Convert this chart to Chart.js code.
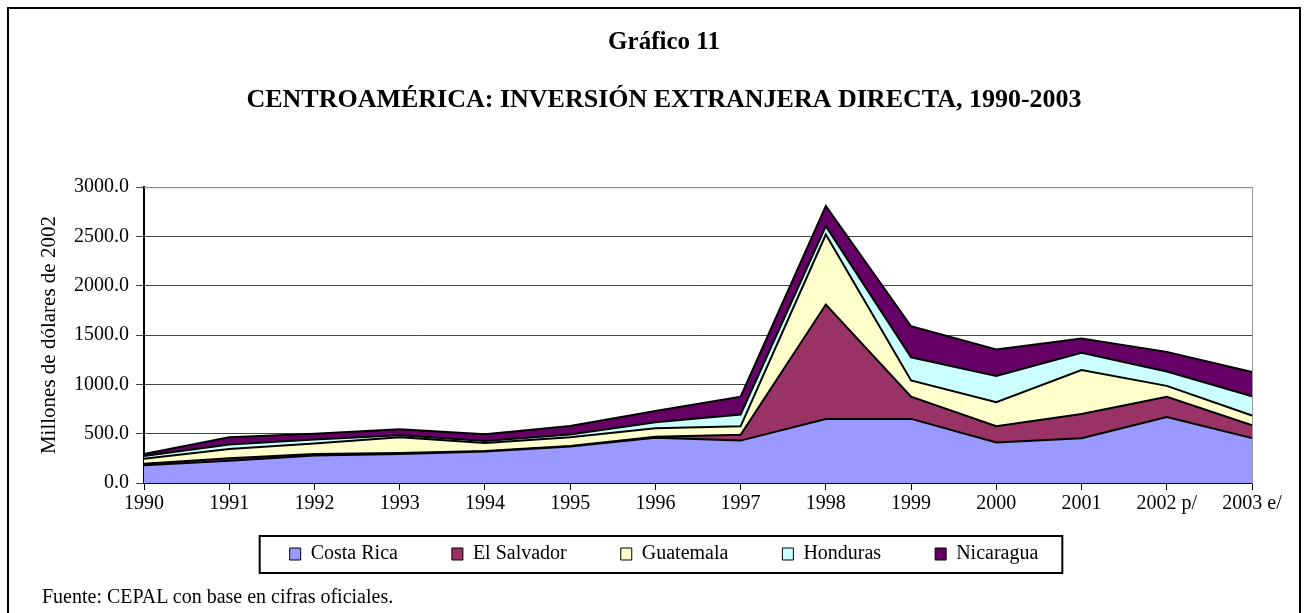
<!DOCTYPE html>
<html lang="es">
<head>
    <meta charset="UTF-8">
    <title>Gráfico 11</title>
    <script src="https://cdn.jsdelivr.net/npm/chart.js"></script>
    <style>
        body {
            margin: 0;
            background: #ffffff;
            font-family: 'Liberation Serif', 'Times New Roman', serif;
        }
        .wrap {
            position: relative;
            width: 1308px;
            height: 613px;
            overflow: hidden;
        }
        .frame {
            position: absolute;
            left: 7px;
            top: 7px;
            width: 1290px;
            height: 620px;
            border: 2px solid #000;
            pointer-events: none;
        }
        .note {
            position: absolute;
            left: 42px;
            top: 585px;
            font-size: 20px;
            color: #000;
        }
    </style>
</head>
<body>
    <div class="wrap">
        <canvas id="fdi-chart" width="1308" height="613"></canvas>
        <div class="frame"></div>
        <div class="note">Fuente: CEPAL con base en cifras oficiales.</div>
    </div>
    <script>
        // valores (millones de dólares de 2002)
        const years = ['1990', '1991', '1992', '1993', '1994', '1995', '1996', '1997', '1998', '1999', '2000', '2001', '2002 p/', '2003 e/'];
        const costaRica  = [180, 225, 280, 295, 320, 370, 460, 430, 650, 650, 410, 455, 670, 455];
        const elSalvador = [15, 25, 15, 10, 5, 5, 10, 60, 1160, 225, 165, 245, 205, 130];
        const guatemala  = [50, 95, 105, 160, 80, 90, 85, 85, 710, 165, 245, 445, 110, 100];
        const honduras   = [30, 45, 40, 20, 20, 27, 60, 120, 85, 235, 265, 175, 145, 195];
        const nicaragua  = [20, 75, 60, 60, 70, 85, 115, 180, 205, 315, 270, 145, 200, 245];

        const serif = "'Liberation Serif', 'Times New Roman', serif";

        function area(label, data, color, fill) {
            return {
                label: label,
                data: data,
                backgroundColor: color,
                borderColor: '#000000',
                borderWidth: 2,
                fill: fill,
                tension: 0,
                pointRadius: 0
            };
        }

        // recuadro alrededor de la leyenda
        const legendFrame = {
            id: 'legendFrame',
            afterDraw(chart) {
                const lg = chart.legend;
                if (!lg || !lg.legendHitBoxes.length) return;
                const ctx = chart.ctx;
                const boxes = lg.legendHitBoxes;
                const last = boxes[boxes.length - 1];
                const x0 = boxes[0].left - 30;
                const x1 = last.left + last.width + 24;
                ctx.save();
                ctx.strokeStyle = '#000000';
                ctx.lineWidth = 2;
                ctx.strokeRect(x0, lg.top + 1, x1 - x0, lg.height - 2);
                ctx.restore();
            }
        };

        // borde gris superior del área de trazado
        const topBorder = {
            id: 'topBorder',
            afterDraw(chart) {
                const a = chart.chartArea;
                const ctx = chart.ctx;
                ctx.save();
                ctx.strokeStyle = '#999';
                ctx.lineWidth = 1;
                ctx.beginPath();
                ctx.moveTo(a.left, a.top + 0.5);
                ctx.lineTo(a.right, a.top + 0.5);
                ctx.stroke();
                ctx.restore();
            }
        };

        new Chart(document.getElementById('fdi-chart'), {
            type: 'line',
            data: {
                labels: years,
                datasets: [
                    area('Costa Rica', costaRica, '#9999ff', 'origin'),
                    area('El Salvador', elSalvador, '#993366', '-1'),
                    area('Guatemala', guatemala, '#ffffcc', '-1'),
                    area('Honduras', honduras, '#ccffff', '-1'),
                    area('Nicaragua', nicaragua, '#660066', '-1')
                ]
            },
            options: {
                responsive: false,
                animation: false,
                layout: {
                    padding: { top: 10, left: 20, right: 0, bottom: 39 }
                },
                plugins: {
                    title: {
                        display: true,
                        text: 'Gráfico 11',
                        color: '#000',
                        font: { family: serif, size: 25, weight: 'bold' },
                        padding: { top: 18, bottom: 14 }
                    },
                    subtitle: {
                        display: true,
                        text: 'CENTROAMÉRICA: INVERSIÓN EXTRANJERA DIRECTA, 1990-2003',
                        color: '#000',
                        font: { family: serif, size: 26, weight: 'bold' },
                        padding: { top: 13, bottom: 71 }
                    },
                    legend: {
                        position: 'bottom',
                        labels: {
                            color: '#000',
                            font: { family: serif, size: 20 },
                            boxWidth: 11,
                            boxHeight: 12,
                            padding: 9,
                            generateLabels: function (chart) {
                                const items = Chart.defaults.plugins.legend.labels.generateLabels(chart);
                                items.forEach((it, i) => {
                                    it.lineWidth = 1;
                                    if (i < items.length - 1) it.text = it.text + ' '.repeat(9);
                                });
                                return items;
                            }
                        }
                    },
                    tooltip: { enabled: false }
                },
                scales: {
                    x: {
                        offset: false,
                        grid: {
                            drawOnChartArea: false,
                            drawTicks: true,
                            tickLength: 7,
                            color: '#000'
                        },
                        border: { color: '#000', width: 2 },
                        ticks: {
                            color: '#000',
                            font: { family: serif, size: 20 },
                            autoSkip: false,
                            maxRotation: 0,
                            padding: 2
                        },
                        afterFit: function (s) { s.height = 52; }
                    },
                    y: {
                        stacked: true,
                        min: 0,
                        max: 3000,
                        grid: {
                            color: '#444',
                            lineWidth: 1,
                            tickLength: 8
                        },
                        border: { color: '#000', width: 2 },
                        ticks: {
                            stepSize: 500,
                            color: '#000',
                            font: { family: serif, size: 20 },
                            padding: 7,
                            callback: v => v.toFixed(1)
                        },
                        title: {
                            display: true,
                            text: 'Millones de dólares de 2002',
                            color: '#000',
                            font: { family: serif, size: 21 },
                            padding: { top: 17, bottom: 0 }
                        },
                        afterFit: function (s) { s.width = 124; }
                    },
                    // eje derecho vacío: deja el margen y traza el borde gris
                    right: {
                        position: 'right',
                        min: 0,
                        max: 3000,
                        grid: { display: false },
                        ticks: { display: false },
                        border: { display: true, color: '#999', width: 1 },
                        afterFit: function (s) { s.width = 56; }
                    }
                }
            },
            plugins: [legendFrame, topBorder]
        });
    </script>
</body>
</html>
